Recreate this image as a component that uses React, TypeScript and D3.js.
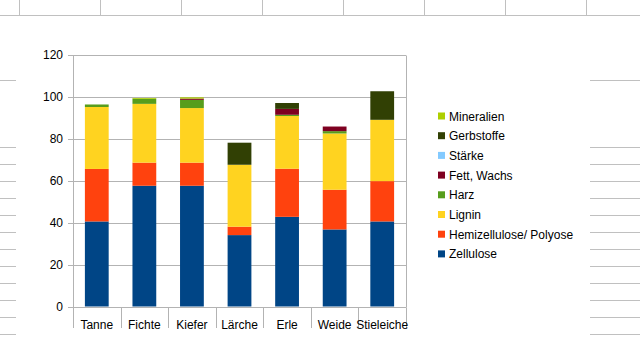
import React from "react";
import * as d3 from "d3";

const categories = ["Tanne", "Fichte", "Kiefer", "Lärche", "Erle", "Weide", "Stieleiche"];
const seriesNames = ["Zellulose", "Hemizellulose/ Polyose", "Lignin", "Harz", "Fett, Wachs", "Stärke", "Gerbstoffe", "Mineralien"];
const zellulose = [40.5, 57.5, 57.5, 34, 42.7, 36.7, 40.5];
const hemizellulose = [25, 11, 11, 4, 22.9, 18.9, 19.2];
const lignin = [29.5, 28, 26, 29.5, 25.1, 26.8, 29.2];
const harz = [1.2, 2.4, 3.9, 0, 0.6, 1.1, 0];
const fett = [0, 0, 0.6, 0, 2.8, 2.2, 0];
const staerke = [0, 0, 0, 0, 0, 0, 0];
const gerbstoffe = [0, 0, 0, 10.5, 2.8, 0, 13.6];
const mineralien = [0, 0.4, 0.6, 0, 0, 0, 0];
const yTicks = [0, 20, 40, 60, 80, 100, 120];
const colors = ["#004586", "#ff420e", "#ffd320", "#579d1c", "#7e0021", "#83caff", "#314004", "#aecf00"];

const W = 640;
const H = 340;

export default function App() {
  const seriesValues = [zellulose, hemizellulose, lignin, harz, fett, staerke, gerbstoffe, mineralien];
  const rows = categories.map((c, i) => {
    const r: Record<string, any> = { cat: c };
    seriesNames.forEach((s, j) => (r[s] = seriesValues[j][i]));
    return r;
  });
  const stacked = d3.stack<any>().keys(seriesNames)(rows);

  const x = d3.scaleBand().domain(categories).range([73, 406]).paddingInner(0.5).paddingOuter(0.25);
  const y = d3.scaleLinear().domain([0, 120]).range([306.5, 54.5]);
  const step = x.step();
  const boundaries = d3.range(categories.length + 1).map((i) => 73 + i * step);

  const font = "'Liberation Sans', Arial, sans-serif";
  const grid = "#b3b3b3";

  // spreadsheet background lines
  const colLines = [19, 100, 181, 262, 343, 424, 505, 586];
  const rowLines = [80, ...d3.range(147, 340, 17)];

  return (
    <svg width={W} height={H} style={{ position: "fixed", left: 0, top: 0, background: "#fff" }} fontFamily={font}>
      <rect x={0} y={0} width={W} height={H} fill="#fff" />
      <line x1={0} x2={W} y1={15.5} y2={15.5} stroke="#c0c0c0" />
      {colLines.map((cx) => (
        <line key={"c" + cx} x1={cx + 0.5} x2={cx + 0.5} y1={0} y2={15.5} stroke="#c0c0c0" />
      ))}
      {rowLines.map((ry) => (
        <g key={"r" + ry}>
          <line x1={0} x2={16} y1={ry + 0.5} y2={ry + 0.5} stroke="#c0c0c0" />
          <line x1={590} x2={W} y1={ry + 0.5} y2={ry + 0.5} stroke="#c0c0c0" />
        </g>
      ))}

      {/* gridlines */}
      {yTicks.map((t) => (
        <line key={"g" + t} x1={68} x2={406} y1={Math.round(y(t)) + 0.5} y2={Math.round(y(t)) + 0.5} stroke={grid} />
      ))}
      <line x1={406.5} x2={406.5} y1={Math.round(y(120)) + 0.5} y2={Math.round(y(0)) + 0.5} stroke={grid} />
      <line x1={73.5} x2={73.5} y1={Math.round(y(120)) + 0.5} y2={Math.round(y(0)) + 0.5} stroke={grid} />
      {boundaries.map((bx, i) => (
        <line key={"b" + i} x1={Math.round(bx) + 0.5} x2={Math.round(bx) + 0.5} y1={Math.round(y(0)) + 0.5} y2={328} stroke={grid} />
      ))}

      {/* bars */}
      {stacked.map((layer, si) => (
        <g key={"s" + si} fill={colors[si]}>
          {layer.map((d, ci) => {
            const h = y(d[0]) - y(d[1]);
            if (h <= 0) return null;
            return <rect key={ci} x={x(categories[ci])} y={y(d[1])} width={x.bandwidth()} height={h} />;
          })}
        </g>
      ))}

      {/* y tick labels */}
      {yTicks.map((t) => (
        <text key={"t" + t} x={63} y={y(t) + 4.5} textAnchor="end" fontSize={12} fill="#000">
          {t}
        </text>
      ))}

      {/* category labels */}
      {categories.map((c) => (
        <text key={"x" + c} x={(x(c) as number) + x.bandwidth() / 2} y={328.5} textAnchor="middle" fontSize={12} fill="#000">
          {c}
        </text>
      ))}

      {/* legend */}
      {seriesNames
        .slice()
        .reverse()
        .map((s, i) => {
          const idx = seriesNames.length - 1 - i;
          const cy = 116 + i * 19.7;
          return (
            <g key={"l" + s}>
              <rect x={438} y={cy - 3.5} width={7} height={7} fill={colors[idx]} />
              <text x={449} y={cy + 4.5} fontSize={12} fill="#000">
                {s}
              </text>
            </g>
          );
        })}
    </svg>
  );
}
